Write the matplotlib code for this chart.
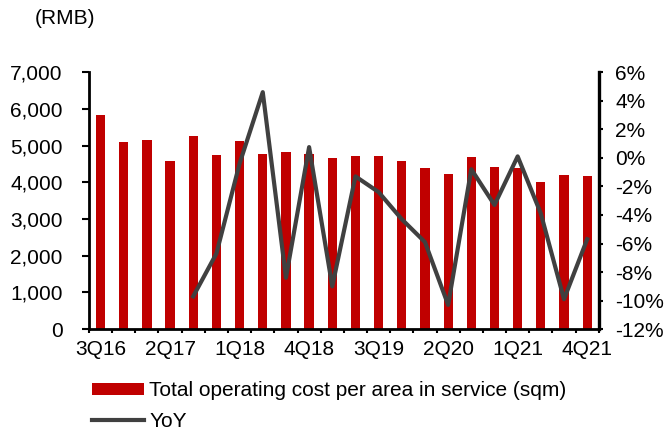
import matplotlib.pyplot as plt
import numpy as np

plt.rcParams['font.family'] = ['Liberation Sans', 'DejaVu Sans']

quarters = ['3Q16', '4Q16', '1Q17', '2Q17', '3Q17', '4Q17', '1Q18', '2Q18',
            '3Q18', '4Q18', '1Q19', '2Q19', '3Q19', '4Q19', '1Q20', '2Q20',
            '3Q20', '4Q20', '1Q21', '2Q21', '3Q21', '4Q21']
cost = [5840, 5085, 5160, 4570, 5270, 4740, 5130, 4780, 4830, 4780, 4670,
        4715, 4715, 4570, 4395, 4230, 4690, 4415, 4395, 4020, 4205, 4170]
yoy = [None, None, None, None, -9.7, -6.7, -0.4, 4.6, -8.4, 0.75, -9.0,
       -1.3, -2.4, -4.3, -5.9, -10.3, -0.8, -3.3, 0.1, -3.9, -9.9, -5.7]

x = np.arange(len(quarters))
yoy_arr = np.array([np.nan if v is None else v for v in yoy])

fs = 15
fig = plt.figure(figsize=(6.69, 4.32), dpi=100)
ax = fig.add_axes([0.133, 0.238, 0.762, 0.595])
ax2 = ax.twinx()

bars = ax.bar(x, cost, width=0.4, color='#C00000', zorder=2)
line, = ax2.plot(x, yoy_arr, color='#404040', lw=3, zorder=3)

ax.set_xlim(-0.5, len(quarters) - 0.5)
ax.set_ylim(0, 7000)
ax.set_yticks(np.arange(0, 7001, 1000))
ax.set_yticklabels([f'{v:,}' for v in range(0, 7001, 1000)])
ax2.set_ylim(-12, 6)
ax2.set_yticks(np.arange(-12, 7, 2))
ax2.set_yticklabels([f'{v}%' for v in range(-12, 7, 2)])

ax.set_xticks(x[::3])
ax.set_xticklabels(quarters[::3])
ax.set_xticks(np.arange(-0.5, len(quarters), 1), minor=True)
ax.tick_params(axis='x', which='major', length=0, labelsize=fs, pad=8)
ax.tick_params(axis='x', which='minor', length=3, width=1.5, direction='out')
ax.tick_params(axis='y', length=5, width=1.5, labelsize=fs, pad=14)
ax2.tick_params(axis='y', length=3, width=1.5, labelsize=fs, pad=9)

for a in (ax, ax2):
    a.spines['top'].set_visible(False)
ax.spines['left'].set_linewidth(2)
ax.spines['bottom'].set_linewidth(2)
ax2.spines['right'].set_linewidth(2.4)
ax2.spines['left'].set_visible(False)
ax2.spines['bottom'].set_visible(False)

fig.text(0.052, 0.945, '(RMB)', fontsize=fs)

fig.legend([bars, line], ['Total operating cost per area in service (sqm)', 'YoY'],
           loc='upper left', bbox_to_anchor=(0.125, 0.137), frameon=False,
           fontsize=fs, handlelength=2.5, handleheight=0.55, handletextpad=0.25,
           labelspacing=0.55, borderaxespad=0)

fig.savefig('out.png', dpi=100)
